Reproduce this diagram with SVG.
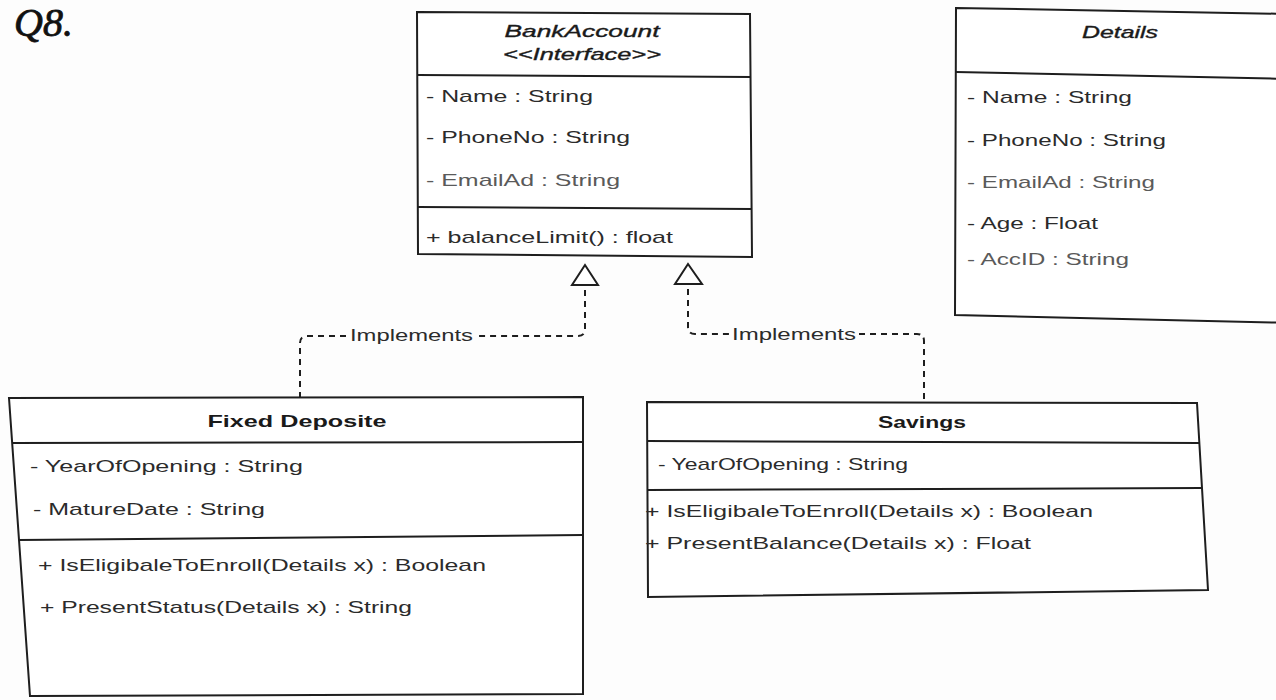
<svg xmlns="http://www.w3.org/2000/svg" width="1276" height="700" viewBox="0 0 1276 700">
  <style>
    .box { fill: #ffffff; stroke: #1e1e1e; stroke-width: 2; }
    .sep { stroke: #1e1e1e; stroke-width: 2; fill: none; }
    .t { font-family: "Liberation Sans", Arial, sans-serif; font-size: 17px; fill: #2b2b2b; }
    .lt { fill: #5a5a5a; }
    .ttl { font-family: "Liberation Sans", Arial, sans-serif; font-size: 17px; fill: #1a1a1a; font-weight: bold; }
    .itl { font-family: "Liberation Sans", Arial, sans-serif; font-size: 17px; fill: #1a1a1a; font-style: italic; stroke: #1a1a1a; stroke-width: 0.35; }
    .dash { fill: none; stroke: #1e1e1e; stroke-width: 2; stroke-dasharray: 6 5; }
    .tri { fill: #ffffff; stroke: #1e1e1e; stroke-width: 2; stroke-linejoin: miter; }
    .lbl { font-family: "Liberation Sans", Arial, sans-serif; font-size: 16px; fill: #2b2b2b; }
  </style>

  <rect x="0" y="0" width="1276" height="700" fill="#fdfdfd"/>

  <!-- question number, handwritten -->
  <text x="14" y="36" font-family="Liberation Serif, serif" font-style="italic" font-size="40" fill="#111" stroke="#111" stroke-width="0.8">Q8.</text>

  <!-- interface -->
  <g id="bankaccount">
    <polygon class="box" points="417,12 750,14 752,257 418,254"/>
    <line class="sep" x1="417" y1="75" x2="751" y2="77"/>
    <line class="sep" x1="418" y1="207" x2="752" y2="209"/>
    <text class="itl" x="582" y="37" text-anchor="middle" textLength="155" lengthAdjust="spacingAndGlyphs">BankAccount</text>
    <text class="itl" x="582" y="60" text-anchor="middle" textLength="158" lengthAdjust="spacingAndGlyphs">&lt;&lt;Interface&gt;&gt;</text>
    <text class="t" x="426" y="102" textLength="167" lengthAdjust="spacingAndGlyphs">- Name : String</text>
    <text class="t" x="426" y="143" textLength="204" lengthAdjust="spacingAndGlyphs">- PhoneNo : String</text>
    <text class="t lt" x="426" y="186" textLength="194" lengthAdjust="spacingAndGlyphs">- EmailAd : String</text>
    <text class="t" x="426" y="243" textLength="247" lengthAdjust="spacingAndGlyphs">+ balanceLimit() : float</text>
  </g>

  <!-- data class -->
  <g id="details">
    <polygon class="box" points="956,8 1292,14 1292,323 955,315"/>
    <line class="sep" x1="956" y1="72" x2="1292" y2="79"/>
    <text class="itl" x="1120" y="38" text-anchor="middle" textLength="76" lengthAdjust="spacingAndGlyphs">Details</text>
    <text class="t" x="967" y="103" textLength="165" lengthAdjust="spacingAndGlyphs">- Name : String</text>
    <text class="t" x="967" y="146" textLength="199" lengthAdjust="spacingAndGlyphs">- PhoneNo : String</text>
    <text class="t lt" x="967" y="188" textLength="188" lengthAdjust="spacingAndGlyphs">- EmailAd : String</text>
    <text class="t" x="967" y="229" textLength="131" lengthAdjust="spacingAndGlyphs">- Age : Float</text>
    <text class="t lt" x="967" y="265" textLength="162" lengthAdjust="spacingAndGlyphs">- AccID : String</text>
  </g>

  <!-- implementation: fixed deposit -->
  <g id="fixed-deposite">
    <polygon class="box" points="9,398 583,397 583,694 30,696"/>
    <line class="sep" x1="12" y1="443" x2="583" y2="442"/>
    <line class="sep" x1="19" y1="540" x2="583" y2="535"/>
    <text class="ttl" x="297" y="427" text-anchor="middle" textLength="179" lengthAdjust="spacingAndGlyphs">Fixed Deposite</text>
    <text class="t" x="30" y="472" textLength="273" lengthAdjust="spacingAndGlyphs">- YearOfOpening : String</text>
    <text class="t" x="33" y="515" textLength="232" lengthAdjust="spacingAndGlyphs">- MatureDate : String</text>
    <text class="t" x="38" y="571" textLength="448" lengthAdjust="spacingAndGlyphs">+ IsEligibaleToEnroll(Details x) : Boolean</text>
    <text class="t" x="40" y="613" textLength="372" lengthAdjust="spacingAndGlyphs">+ PresentStatus(Details x) : String</text>
  </g>

  <!-- implementation: savings -->
  <g id="savings">
    <polygon class="box" points="647,402 1197,403 1208,590 648,597"/>
    <line class="sep" x1="647" y1="441" x2="1199" y2="443"/>
    <line class="sep" x1="648" y1="490" x2="1202" y2="488"/>
    <text class="ttl" x="922" y="428" text-anchor="middle" textLength="88" lengthAdjust="spacingAndGlyphs">Savings</text>
    <text class="t" x="658" y="470" textLength="250" lengthAdjust="spacingAndGlyphs">- YearOfOpening : String</text>
    <text class="t" x="645" y="517" textLength="448" lengthAdjust="spacingAndGlyphs">+ IsEligibaleToEnroll(Details x) : Boolean</text>
    <text class="t" x="645" y="549" textLength="386" lengthAdjust="spacingAndGlyphs">+ PresentBalance(Details x) : Float</text>
  </g>

  <!-- realization connectors -->
  <g id="connectors">
    <polygon class="tri" points="585,265 572,285 598,285"/>
    <path class="dash" d="M585,290 V329 Q585,336 578,336 H476"/>
    <path class="dash" d="M346,336 H307 Q300,336 300,343 V397"/>
    <text class="lbl" x="350" y="341" textLength="123" lengthAdjust="spacingAndGlyphs">Implements</text>

    <polygon class="tri" points="688,264 675,284 702,284"/>
    <path class="dash" d="M688,289 V327 Q688,334 695,334 H729"/>
    <path class="dash" d="M859,334 H917 Q924,334 924,341 V402"/>
    <text class="lbl" x="732" y="340" textLength="124" lengthAdjust="spacingAndGlyphs">Implements</text>
  </g>
</svg>
